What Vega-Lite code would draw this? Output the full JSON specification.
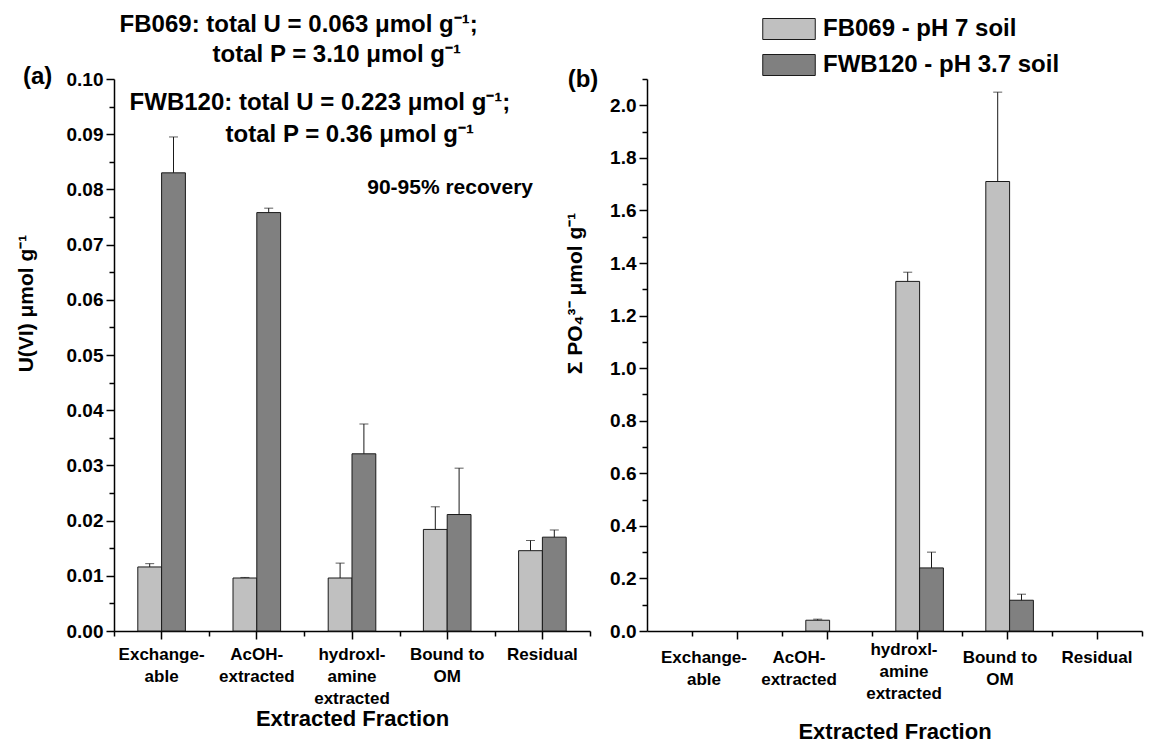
{
  "$schema": "https://vega.github.io/schema/vega-lite/v6.json",
  "background": "white",
  "padding": {"left": 15, "top": 12, "right": 5, "bottom": 4},
  "config": {
    "font": "Liberation Sans",
    "view": {"stroke": null},
    "axis": {
      "grid": false,
      "domainColor": "#000",
      "domainWidth": 1.5,
      "tickColor": "#000",
      "tickWidth": 1.5,
      "labelFont": "Liberation Sans",
      "labelFontWeight": "bold",
      "labelColor": "#000",
      "titleFont": "Liberation Sans",
      "titleFontWeight": "bold",
      "titleColor": "#000"
    },
    "text": {"font": "Liberation Sans", "fontWeight": "bold", "color": "#000"}
  },
  "datasets": {
    "uranium": [
      {"fraction": "Exchangeable", "soil": "FB069 - pH 7 soil", "value": 0.0116, "upper": 0.0122},
      {"fraction": "Exchangeable", "soil": "FWB120 - pH 3.7 soil", "value": 0.083, "upper": 0.0895},
      {"fraction": "AcOH-extracted", "soil": "FB069 - pH 7 soil", "value": 0.0096, "upper": 0.0097},
      {"fraction": "AcOH-extracted", "soil": "FWB120 - pH 3.7 soil", "value": 0.0758, "upper": 0.0766},
      {"fraction": "hydroxlamine extracted", "soil": "FB069 - pH 7 soil", "value": 0.0096, "upper": 0.0123},
      {"fraction": "hydroxlamine extracted", "soil": "FWB120 - pH 3.7 soil", "value": 0.0321, "upper": 0.0375},
      {"fraction": "Bound to OM", "soil": "FB069 - pH 7 soil", "value": 0.0184, "upper": 0.0225},
      {"fraction": "Bound to OM", "soil": "FWB120 - pH 3.7 soil", "value": 0.0211, "upper": 0.0295},
      {"fraction": "Residual", "soil": "FB069 - pH 7 soil", "value": 0.01455, "upper": 0.0164},
      {"fraction": "Residual", "soil": "FWB120 - pH 3.7 soil", "value": 0.017, "upper": 0.0183}
    ],
    "phosphate": [
      {"fraction": "AcOH-extracted", "soil": "FB069 - pH 7 soil", "value": 0.041, "upper": 0.045},
      {"fraction": "hydroxlamine extracted", "soil": "FB069 - pH 7 soil", "value": 1.33, "upper": 1.365},
      {"fraction": "hydroxlamine extracted", "soil": "FWB120 - pH 3.7 soil", "value": 0.24, "upper": 0.3},
      {"fraction": "Bound to OM", "soil": "FB069 - pH 7 soil", "value": 1.71, "upper": 2.05},
      {"fraction": "Bound to OM", "soil": "FWB120 - pH 3.7 soil", "value": 0.117, "upper": 0.14}
    ]
  },
  "bounds": "flush",
  "spacing": 57,
  "hconcat": [
    {
      "width": 476,
      "height": 552,
      "resolve": {"axis": {"x": "independent", "y": "independent"}},
      "layer": [
        {
          "data": {"name": "uranium"},
          "mark": {"type": "bar", "stroke": "#1a1a1a", "strokeWidth": 1},
          "encoding": {
            "x": {
              "field": "fraction",
              "type": "nominal",
              "sort": null,
              "scale": {"domain": ["Exchangeable", "AcOH-extracted", "hydroxlamine extracted", "Bound to OM", "Residual"], "paddingInner": 0, "paddingOuter": 0},
              "axis": {
                "title": "Extracted Fraction",
                "titleFontSize": 22,
                "titlePadding": 2,
                "labelFontSize": 17,
                "labelAngle": 0,
                "labelLimit": 0,
                "labelLineHeight": 22,
                "labelPadding": 7,
                "labelBaseline": "top",
                "labelExpr": "datum.value === 'Exchangeable' ? ['Exchange-', 'able'] : datum.value === 'AcOH-extracted' ? ['AcOH-', 'extracted'] : datum.value === 'hydroxlamine extracted' ? ['hydroxl-', 'amine', 'extracted'] : datum.value === 'Bound to OM' ? ['Bound to', 'OM'] : datum.value",
                "tickBand": "center",
                "tickSize": 8
              }
            },
            "xOffset": {"field": "soil", "type": "nominal", "scale": {"domain": ["FB069 - pH 7 soil", "FWB120 - pH 3.7 soil"], "paddingInner": 0, "paddingOuter": 1.5}},
            "y": {
              "field": "value",
              "type": "quantitative",
              "scale": {"domain": [0, 0.1], "nice": false},
              "axis": {
                "title": "U(VI) μmol g⁻¹",
                "titleFontSize": 21,
                "titleX": -88,
                "titleY": 224,
                "titleBaseline": "middle",
                "titleAlign": "center",
                "titleAngle": -90,
                "labelFontSize": 19,
                "labelPadding": 3,
                "values": [0, 0.005, 0.01, 0.015, 0.02, 0.025, 0.03, 0.035, 0.04, 0.045, 0.05, 0.055, 0.06, 0.065, 0.07, 0.075, 0.08, 0.085, 0.09, 0.095, 0.1],
                "labelExpr": "round(datum.value * 1000) % 10 === 0 ? format(datum.value, '.2f') : ''",
                "tickSize": {"condition": {"test": "round(datum.value * 1000) % 10 !== 0", "value": 5}, "value": 8}
              }
            },
            "color": {
              "field": "soil",
              "type": "nominal",
              "scale": {"domain": ["FB069 - pH 7 soil", "FWB120 - pH 3.7 soil"], "range": ["#c0c0c0", "#808080"]},
              "legend": {
                "orient": "none",
                "legendX": 663,
                "legendY": -62,
                "title": null,
                "symbolType": "M-2.5,-1H2.5V1H-2.5Z",
                "symbolSize": 441,
                "symbolStrokeColor": "#1a1a1a",
                "symbolStrokeWidth": 1,
                "symbolOpacity": 1,
                "labelFont": "Liberation Sans",
                "labelFontWeight": "bold",
                "labelFontSize": 24,
                "labelColor": "#000",
                "labelOffset": 22,
                "labelLimit": 0,
                "rowPadding": 10
              }
            }
          }
        },
        {
          "data": {"name": "uranium"},
          "mark": {"type": "rule", "color": "#1a1a1a", "strokeWidth": 1},
          "encoding": {
            "x": {
              "field": "fraction",
              "type": "nominal",
              "sort": null,
              "axis": {"orient": "bottom", "tickBand": "extent", "tickSize": 5, "labels": false, "domain": false, "title": null}
            },
            "xOffset": {"field": "soil", "type": "nominal"},
            "y": {"field": "value", "type": "quantitative", "axis": null},
            "y2": {"field": "upper"}
          }
        },
        {
          "data": {"name": "uranium"},
          "mark": {"type": "tick", "color": "#1a1a1a", "thickness": 1, "size": 9, "orient": "horizontal"},
          "encoding": {
            "x": {"field": "fraction", "type": "nominal", "sort": null, "axis": null},
            "xOffset": {"field": "soil", "type": "nominal"},
            "y": {"field": "upper", "type": "quantitative", "axis": null}
          }
        },
        {
          "data": {"values": [{}]},
          "mark": {"type": "text", "text": "FB069: total U = 0.063 μmol g⁻¹;", "fontSize": 24, "align": "left", "baseline": "middle", "dx": -42},
          "encoding": {
            "x": {"datum": "Exchangeable", "type": "nominal", "axis": null},
            "y": {"datum": 0.1098, "type": "quantitative", "axis": null}
          }
        },
        {
          "data": {"values": [{}]},
          "mark": {"type": "text", "text": "total P = 3.10 μmol g⁻¹", "fontSize": 24, "align": "left", "baseline": "middle", "dx": 51},
          "encoding": {
            "x": {"datum": "Exchangeable", "type": "nominal", "axis": null},
            "y": {"datum": 0.1043, "type": "quantitative", "axis": null}
          }
        },
        {
          "data": {"values": [{}]},
          "mark": {"type": "text", "text": "FWB120: total U = 0.223 μmol g⁻¹;", "fontSize": 24, "align": "left", "baseline": "middle", "dx": -32},
          "encoding": {
            "x": {"datum": "Exchangeable", "type": "nominal", "axis": null},
            "y": {"datum": 0.0957, "type": "quantitative", "axis": null}
          }
        },
        {
          "data": {"values": [{}]},
          "mark": {"type": "text", "text": "total P = 0.36 μmol g⁻¹", "fontSize": 24, "align": "left", "baseline": "middle", "dx": 64},
          "encoding": {
            "x": {"datum": "Exchangeable", "type": "nominal", "axis": null},
            "y": {"datum": 0.0899, "type": "quantitative", "axis": null}
          }
        },
        {
          "data": {"values": [{}]},
          "mark": {"type": "text", "text": "90-95% recovery", "fontSize": 21, "align": "left", "baseline": "middle", "dx": -80},
          "encoding": {
            "x": {"datum": "Bound to OM", "type": "nominal", "axis": null},
            "y": {"datum": 0.0803, "type": "quantitative", "axis": null}
          }
        },
        {
          "data": {"values": [{}]},
          "mark": {"type": "text", "text": "(a)", "fontSize": 24, "align": "center", "baseline": "middle", "dx": -124},
          "encoding": {
            "x": {"datum": "Exchangeable", "type": "nominal", "axis": null},
            "y": {"datum": 0.1003, "type": "quantitative", "axis": null}
          }
        }
      ]
    },
    {
      "width": 495,
      "height": 552,
      "resolve": {"axis": {"x": "independent", "y": "independent"}},
      "layer": [
        {
          "data": {"name": "phosphate"},
          "mark": {"type": "bar", "stroke": "#1a1a1a", "strokeWidth": 1},
          "encoding": {
            "x": {
              "field": "fraction",
              "type": "nominal",
              "sort": null,
              "scale": {"domain": ["Exchangeable", "AcOH-extracted", "hydroxlamine extracted", "Bound to OM", "Residual"], "paddingInner": 0, "paddingOuter": 0.25, "align": 1},
              "axis": {
                "title": "Extracted Fraction",
                "titleFontSize": 22,
                "titlePadding": 20,
                "labelFontSize": 17,
                "labelAngle": 0,
                "labelLimit": 0,
                "labelLineHeight": 22,
                "labelPadding": {"condition": {"test": "datum.value === 'hydroxlamine extracted'", "value": 2}, "value": 10},
                "labelBaseline": "top",
                "labelExpr": "datum.value === 'Exchangeable' ? ['Exchange-', 'able'] : datum.value === 'AcOH-extracted' ? ['AcOH-', 'extracted'] : datum.value === 'hydroxlamine extracted' ? ['hydroxl-', 'amine', 'extracted'] : datum.value === 'Bound to OM' ? ['Bound to', 'OM'] : datum.value",
                "labelOffset": {
                  "condition": [
                    {"test": "datum.value === 'Exchangeable'", "value": -33},
                    {"test": "datum.value === 'AcOH-extracted'", "value": -28},
                    {"test": "datum.value === 'hydroxlamine extracted'", "value": -13},
                    {"test": "datum.value === 'Bound to OM'", "value": -7}
                  ],
                  "value": 0
                },
                "tickBand": "center",
                "tickSize": 8
              }
            },
            "xOffset": {"field": "soil", "type": "nominal", "scale": {"domain": ["FB069 - pH 7 soil", "FWB120 - pH 3.7 soil"], "paddingInner": 0, "paddingOuter": 1.5}},
            "y": {
              "field": "value",
              "type": "quantitative",
              "scale": {"domain": [0, 2.1], "nice": false},
              "axis": {
                "title": "Σ PO₄³⁻ μmol g⁻¹",
                "titleFontSize": 21,
                "titleX": -72,
                "titleY": 214,
                "titleBaseline": "middle",
                "titleAlign": "center",
                "titleAngle": -90,
                "labelFontSize": 19,
                "labelPadding": 3,
                "values": [0, 0.1, 0.2, 0.3, 0.4, 0.5, 0.6, 0.7, 0.8, 0.9, 1, 1.1, 1.2, 1.3, 1.4, 1.5, 1.6, 1.7, 1.8, 1.9, 2, 2.1],
                "labelExpr": "round(datum.value * 10) % 2 === 0 ? format(datum.value, '.1f') : ''",
                "tickSize": {"condition": {"test": "round(datum.value * 10) % 2 !== 0", "value": 5}, "value": 8}
              }
            },
            "color": {
              "field": "soil",
              "type": "nominal",
              "scale": {"domain": ["FB069 - pH 7 soil", "FWB120 - pH 3.7 soil"], "range": ["#c0c0c0", "#808080"]},
              "legend": {
                "orient": "none",
                "legendX": 663,
                "legendY": -62,
                "title": null,
                "symbolType": "M-2.5,-1H2.5V1H-2.5Z",
                "symbolSize": 441,
                "symbolStrokeColor": "#1a1a1a",
                "symbolStrokeWidth": 1,
                "symbolOpacity": 1,
                "labelFont": "Liberation Sans",
                "labelFontWeight": "bold",
                "labelFontSize": 24,
                "labelColor": "#000",
                "labelOffset": 22,
                "labelLimit": 0,
                "rowPadding": 10
              }
            }
          }
        },
        {
          "data": {"name": "phosphate"},
          "mark": {"type": "rule", "color": "#1a1a1a", "strokeWidth": 1},
          "encoding": {
            "x": {
              "field": "fraction",
              "type": "nominal",
              "sort": null,
              "axis": {"orient": "bottom", "tickBand": "extent", "tickSize": 5, "labels": false, "domain": false, "title": null}
            },
            "xOffset": {"field": "soil", "type": "nominal"},
            "y": {"field": "value", "type": "quantitative", "axis": null},
            "y2": {"field": "upper"}
          }
        },
        {
          "data": {"name": "phosphate"},
          "mark": {"type": "tick", "color": "#1a1a1a", "thickness": 1, "size": 9, "orient": "horizontal"},
          "encoding": {
            "x": {"field": "fraction", "type": "nominal", "sort": null, "axis": null},
            "xOffset": {"field": "soil", "type": "nominal"},
            "y": {"field": "upper", "type": "quantitative", "axis": null}
          }
        },
        {
          "data": {"values": [{}]},
          "mark": {"type": "text", "text": "(b)", "fontSize": 24, "align": "center", "baseline": "middle", "dx": -154},
          "encoding": {
            "x": {"datum": "Exchangeable", "type": "nominal", "axis": null},
            "y": {"datum": 2.096, "type": "quantitative", "axis": null}
          }
        }
      ]
    }
  ]
}
